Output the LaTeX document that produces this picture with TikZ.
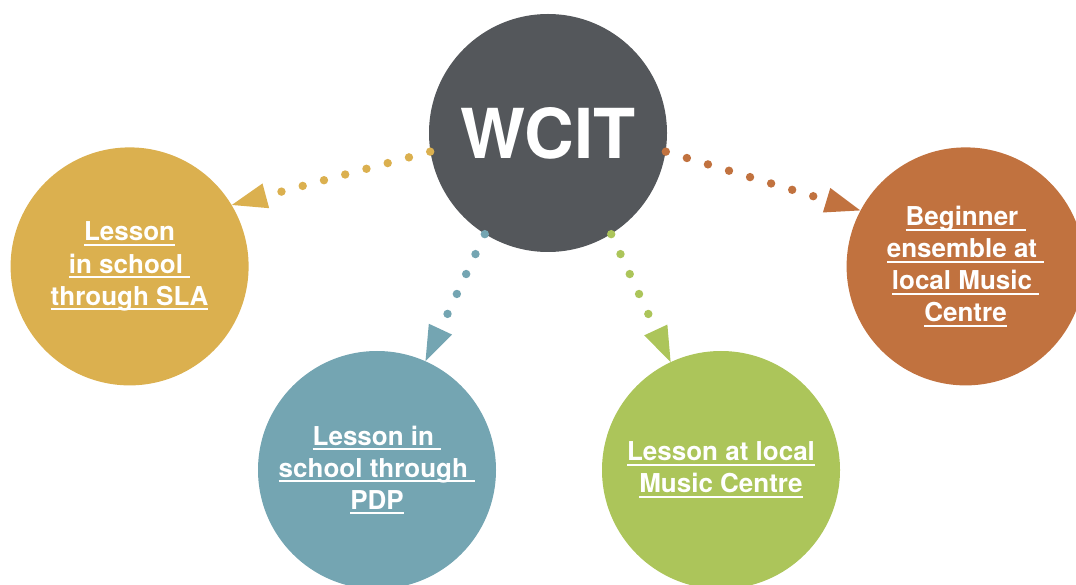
\documentclass[tikz,border=0pt]{standalone}
\usepackage{fontspec}
\setmainfont{TeX Gyre Heros}
\usepackage{tikz}
\usetikzlibrary{arrows.meta}
\definecolor{wcitgray}{HTML}{54575B}
\definecolor{slayellow}{HTML}{DBB04F}
\definecolor{pdpblue}{HTML}{74A5B2}
\definecolor{mcgreen}{HTML}{ACC55A}
\definecolor{ensorange}{HTML}{C1723F}
\newcommand{\lnk}[1]{{\setbox0=\hbox{#1}\rlap{\rule[-3.6pt]{\wd0}{1.4pt}}\box0}}

\begin{document}
\begin{tikzpicture}[
  hub/.style={circle, fill=wcitgray, text=white, minimum size=5.95cm,
              inner sep=0pt, font=\bfseries\fontsize{49}{58}\selectfont},
  route/.style={circle, minimum size=5.95cm, inner sep=0pt, text=white,
                align=center, font=\bfseries\fontsize{18.5}{22.8}\selectfont},
  link/.style={line width=0.21cm, line cap=round,
               dash pattern=on 0pt off 0.55cm,
               -{Triangle[length=0.88cm, width=0.64cm, line width=0pt]}}
]
\useasboundingbox (0,0) rectangle (26.9,14.6);
\node[hub] (wcit) at (13.7,11.275) {WCIT};
\node[route, fill=slayellow] (sla) at (3.24,7.94)
  {\lnk{Lesson}\\\lnk{in school\ }\\\lnk{through SLA}};
\node[route, fill=pdpblue] (pdp) at (9.425,2.85)
  {\lnk{Lesson in\ }\\\lnk{school through\ }\\\lnk{PDP}};
\node[route, fill=mcgreen] (mc) at (18.025,2.85)
  {\lnk{Lesson at local}\\\lnk{Music Centre}};
\node[route, fill=ensorange] (ens) at (24.14,7.94)
  {\lnk{Beginner\ }\\\lnk{ensemble at\ }\\\lnk{local Music\ }\\\lnk{Centre}};
\draw[link, slayellow] (wcit.189) -- (sla.31.6);
\draw[link, pdpblue] (wcit.238) -- (pdp.66);
\draw[link, mcgreen] (wcit.302) -- (mc.115.5);
\draw[link, ensorange] (wcit.351) -- (ens.152.7);
\end{tikzpicture}
\end{document}
